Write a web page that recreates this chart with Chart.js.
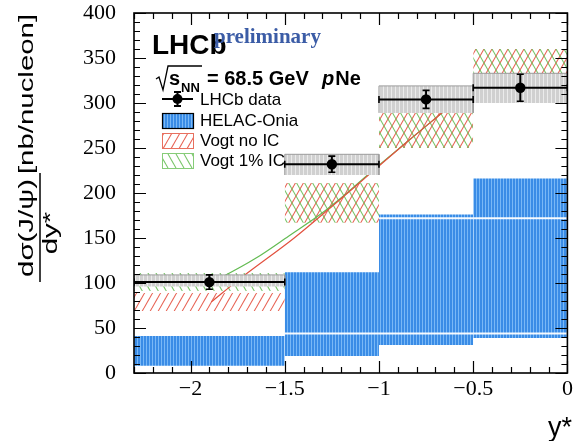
<!DOCTYPE html>
<html>
<head>
<meta charset="utf-8">
<script src="https://cdn.jsdelivr.net/npm/chart.js@4.4.1/dist/chart.umd.min.js"></script>
<style>
  html, body { margin: 0; padding: 0; background: #fff; }
  canvas { display: block; }
</style>
</head>
<body>
<canvas id="c" width="573" height="441"></canvas>
<script>
// Rapidity bins (y*) and measured / predicted J/psi cross-sections [nb/nucleon]
const binEdges = [-2.3, -1.5, -1.0, -0.5, 0.0];
const lhcbCenters = [-1.9, -1.25, -0.75, -0.25];
const lhcbValues = [101, 232, 304, 317];
const lhcbStat = [8, 9, 10, 15];
const lhcbSystLow = [96, 220, 289, 300];
const lhcbSystHigh = [109, 243, 319, 333];

const helacLow = [8, 19, 31, 39];
const helacHigh = [41, 112, 176, 216];
const helacInnerLow = [null, 44, 44, 44];
const helacInnerHigh = [null, null, 172, 172];

const vogtNoIcLow = [69, 167, 250, 301];
const vogtNoIcHigh = [89, 211, 298, 360];
const vogt1IcLow = [91, 167, 250, 301];
const vogt1IcHigh = [111, 211, 298, 360];

const vogtNoIcCurveX = [-1.89, -1.73, -1.45, -1.25, -1.05, -0.85, -0.66];
const vogtNoIcCurveY = [79, 106, 150, 185, 221, 257, 290];
const vogt1IcCurveX = [-1.9, -1.83, -1.65, -1.48, -1.3, -1.17, -1.05, -0.85, -0.66];
const vogt1IcCurveY = [100, 107, 128, 152, 178, 200, 222, 257, 290];

const xTickValues = [-2, -1.5, -1, -0.5, 0];
const yTickValues = [0, 50, 100, 150, 200, 250, 300, 350, 400];

const canvas = document.getElementById('c');
const ctx = canvas.getContext('2d');

// Fill patterns: vertical stripes for boxes, diagonal hatching for bands
function stripePattern(base, stripe, period) {
  const t = document.createElement('canvas');
  t.width = period; t.height = 4;
  const g = t.getContext('2d');
  g.fillStyle = base; g.fillRect(0, 0, period, 4);
  g.fillStyle = stripe; g.fillRect(period - 1, 0, 1, 4);
  return ctx.createPattern(t, 'repeat');
}
function hatchPattern(color, dir) {
  const w = 8, h = 14;
  const t = document.createElement('canvas');
  t.width = w; t.height = h;
  const g = t.getContext('2d');
  g.strokeStyle = color; g.lineWidth = 1.1;
  for (const off of [-w, 0, w]) {
    g.beginPath();
    if (dir > 0) { g.moveTo(off, h); g.lineTo(off + w, 0); }
    else { g.moveTo(off, 0); g.lineTo(off + w, h); }
    g.stroke();
  }
  return ctx.createPattern(t, 'repeat');
}

const blueFill = stripePattern('#3a8ce6', '#79b8f6', 3);
const grayFill = stripePattern('#d0d0d0', '#ebebeb', 4);
const redHatch = hatchPattern('rgba(228,80,64,0.9)', 1);
const greenHatch = hatchPattern('rgba(104,190,86,0.9)', -1);

const datasets = [];

// One filled box per bin
function addBoxes(lows, highs, fill, order, border) {
  for (let i = 0; i < lows.length; i++) {
    const x0 = binEdges[i], x1 = binEdges[i + 1];
    const data = border
      ? [{x: x0, y: lows[i]}, {x: x0, y: highs[i]}, {x: x1, y: highs[i]}, {x: x1, y: lows[i]}]
      : [{x: x0, y: highs[i]}, {x: x1, y: highs[i]}];
    datasets.push({
      data, fill: {value: lows[i]}, backgroundColor: fill,
      borderColor: border || 'transparent', borderWidth: border ? 1 : 0,
      pointRadius: 0, order, tension: 0
    });
  }
}

addBoxes(helacLow, helacHigh, blueFill, 8, null);
// thin white edges inside the HELAC-Onia band
[helacInnerLow, helacInnerHigh].forEach(arr => {
  arr.forEach((v, i) => {
    if (v === null) return;
    datasets.push({
      data: [{x: binEdges[i], y: v}, {x: binEdges[i + 1], y: v}],
      borderColor: 'rgba(255,255,255,0.95)', borderWidth: 2,
      pointRadius: 0, fill: false, order: 7
    });
  });
});
addBoxes(vogtNoIcLow, vogtNoIcHigh, redHatch, 6, null);
addBoxes(vogt1IcLow, vogt1IcHigh, greenHatch, 5, null);

// central theory curves
datasets.push({
  data: vogtNoIcCurveX.map((x, i) => ({x, y: vogtNoIcCurveY[i]})),
  borderColor: '#e2513f', borderWidth: 1.2, pointRadius: 0, fill: false,
  cubicInterpolationMode: 'monotone', order: 4
});
datasets.push({
  data: vogt1IcCurveX.map((x, i) => ({x, y: vogt1IcCurveY[i]})),
  borderColor: '#63bb52', borderWidth: 1.2, pointRadius: 0, fill: false,
  cubicInterpolationMode: 'monotone', order: 4
});

// LHCb systematic boxes
addBoxes(lhcbSystLow, lhcbSystHigh, grayFill, 3, '#9c9c9c');

// LHCb horizontal bin widths and vertical statistical bars
lhcbValues.forEach((v, i) => {
  datasets.push({
    data: [{x: binEdges[i], y: v}, {x: binEdges[i + 1], y: v}],
    borderColor: '#000', borderWidth: 2, fill: false,
    pointStyle: 'line', pointRotation: 90, pointRadius: 3.5,
    pointBorderColor: '#000', pointBorderWidth: 1.6, order: 2
  });
  datasets.push({
    data: [{x: lhcbCenters[i], y: v - lhcbStat[i]}, {x: lhcbCenters[i], y: v + lhcbStat[i]}],
    borderColor: '#000', borderWidth: 2, fill: false,
    pointStyle: 'line', pointRotation: 0, pointRadius: 3.5,
    pointBorderColor: '#000', pointBorderWidth: 1.6, order: 1
  });
});
datasets.push({
  data: lhcbCenters.map((x, i) => ({x, y: lhcbValues[i]})),
  showLine: false, pointRadius: 5.2, pointBackgroundColor: '#000',
  pointBorderColor: '#000', pointBorderWidth: 0, order: 0
});

function fmtX(v) {
  if (v === 0) return '0';
  return (v < 0 ? '\u2212' : '') + Math.abs(v);
}

const framePlugin = {
  id: 'frameAndText',
  afterDraw(chart) {
    const c = chart.ctx;
    const a = chart.chartArea;
    const xs = chart.scales.x, ys = chart.scales.y;
    c.save();
    // frame
    c.strokeStyle = '#000';
    c.lineWidth = 1.6;
    c.strokeRect(a.left, a.top, a.right - a.left, a.bottom - a.top);
    // inward ticks on all four sides
    c.lineWidth = 1.2;
    c.beginPath();
    for (let i = -23; i <= 0; i++) {
      const major = (i % 5) === 0;
      const len = major ? 12 : 6;
      const px = Math.round(xs.getPixelForValue(i / 10)) + 0.5;
      c.moveTo(px, a.bottom); c.lineTo(px, a.bottom - len);
      c.moveTo(px, a.top); c.lineTo(px, a.top + len);
    }
    for (let j = 0; j <= 40; j++) {
      const major = (j % 5) === 0;
      const len = major ? 12 : 6;
      const py = Math.round(ys.getPixelForValue(j * 10)) + 0.5;
      c.moveTo(a.left, py); c.lineTo(a.left + len, py);
      c.moveTo(a.right, py); c.lineTo(a.right - len, py);
    }
    c.stroke();

    c.fillStyle = '#000';
    // y-axis title: fraction d sigma(J/psi) / dy* followed by units
    const sx = 1.4;
    function rotText(txt, bx, cy, font) {
      c.save();
      c.translate(bx, cy);
      c.rotate(-Math.PI / 2);
      c.scale(sx, 1);
      c.font = font;
      c.textAlign = 'center';
      c.textBaseline = 'alphabetic';
      c.fillText(txt, 0, 0);
      c.restore();
    }
    rotText('[nb/nucleon]', 33, 94, '21px "Liberation Sans", Arial, sans-serif');
    rotText('d\u03c3(J/\u03c8)', 33, 228, '21px "Liberation Sans", Arial, sans-serif');
    rotText('dy*', 57, 233, '21px "Liberation Sans", Arial, sans-serif');
    c.lineWidth = 1.5;
    c.beginPath();
    c.moveTo(40, 173); c.lineTo(40, 282);
    c.stroke();

    // x-axis title
    c.font = '27px "Liberation Sans", Arial, sans-serif';
    c.textAlign = 'right';
    c.textBaseline = 'alphabetic';
    c.fillText('y*', 572, 436);

    // LHCb label
    c.textAlign = 'left';
    c.font = 'bold 28px "Liberation Sans", Arial, sans-serif';
    c.fillText('LHCb', 152, 54);
    c.fillStyle = '#3b5ca6';
    c.font = 'bold 21px "Liberation Serif", "Times New Roman", serif';
    c.fillText('preliminary', 214, 43);

    // sqrt(s_NN) = 68.5 GeV pNe
    c.fillStyle = '#000';
    c.strokeStyle = '#000';
    c.lineWidth = 1.3;
    c.beginPath();
    c.moveTo(156, 79); c.lineTo(159, 77); c.lineTo(163, 90);
    c.lineTo(168, 66); c.lineTo(202, 66);
    c.stroke();
    c.font = 'bold 20px "Liberation Sans", Arial, sans-serif';
    c.fillText('s', 169, 85);
    c.font = 'bold 13px "Liberation Sans", Arial, sans-serif';
    c.fillText('NN', 181, 92);
    c.font = 'bold 20px "Liberation Sans", Arial, sans-serif';
    c.fillText('= 68.5 GeV', 207, 85);
    c.font = 'italic bold 20px "Liberation Sans", Arial, sans-serif';
    c.fillText('p', 322, 85);
    const pw = c.measureText('p').width;
    c.font = 'bold 20px "Liberation Sans", Arial, sans-serif';
    c.fillText('Ne', 322 + pw + 1, 85);

    // legend
    const lx0 = 162, lx1 = 193, tx = 200;
    c.font = '17px "Liberation Sans", Arial, sans-serif';
    c.textBaseline = 'middle';
    // LHCb data marker
    c.lineWidth = 2;
    c.beginPath();
    c.moveTo(lx0, 99); c.lineTo(lx1, 99);
    c.moveTo(177.5, 92); c.lineTo(177.5, 106);
    c.moveTo(174, 92); c.lineTo(181, 92);
    c.moveTo(174, 106); c.lineTo(181, 106);
    c.stroke();
    c.beginPath(); c.arc(177.5, 99, 5, 0, Math.PI * 2); c.fill();
    c.fillText('LHCb data', tx, 100);
    // HELAC-Onia
    c.fillStyle = blueFill; c.fillRect(lx0, 113, lx1 - lx0, 15);
    c.strokeStyle = '#000'; c.lineWidth = 1.2; c.strokeRect(lx0 + 0.5, 113.5, lx1 - lx0, 15);
    c.fillStyle = '#000'; c.fillText('HELAC-Onia', tx, 121);
    // Vogt no IC
    c.fillStyle = redHatch; c.fillRect(lx0, 133, lx1 - lx0, 15);
    c.strokeStyle = '#e8705f'; c.lineWidth = 1; c.strokeRect(lx0 + 0.5, 133.5, lx1 - lx0, 15);
    c.fillStyle = '#000'; c.fillText('Vogt no IC', tx, 141);
    // Vogt 1% IC
    c.fillStyle = greenHatch; c.fillRect(lx0, 153, lx1 - lx0, 15);
    c.strokeStyle = '#86cc78'; c.lineWidth = 1; c.strokeRect(lx0 + 0.5, 153.5, lx1 - lx0, 15);
    c.fillStyle = '#000'; c.fillText('Vogt 1% IC', tx, 161);

    c.restore();
  }
};

new Chart(ctx, {
  type: 'line',
  data: { datasets },
  options: {
    responsive: false,
    animation: false,
    events: [],
    layout: { padding: { top: 13, right: 3, left: 0, bottom: 0 } },
    plugins: { legend: { display: false }, tooltip: { enabled: false } },
    scales: {
      x: {
        type: 'linear', min: -2.3, max: 0,
        grid: { display: false }, border: { display: false },
        afterBuildTicks: s => { s.ticks = xTickValues.map(v => ({value: v})); },
        afterFit: s => { s.height = 68; s.paddingLeft = 0; s.paddingRight = 0; },
        ticks: {
          autoSkip: false, maxRotation: 0, padding: -5, color: '#000',
          font: { family: '"Liberation Serif", "Times New Roman", serif', size: 22 },
          callback: v => fmtX(v)
        }
      },
      y: {
        type: 'linear', min: 0, max: 400,
        grid: { display: false }, border: { display: false },
        afterBuildTicks: s => { s.ticks = yTickValues.map(v => ({value: v})); },
        afterFit: s => { s.width = 134; s.paddingTop = 0; s.paddingBottom = 0; },
        ticks: {
          autoSkip: false, padding: 10, color: '#000',
          font: { family: '"Liberation Serif", "Times New Roman", serif', size: 22 },
          callback: v => String(v)
        }
      }
    }
  },
  plugins: [framePlugin]
});
</script>
</body>
</html>
